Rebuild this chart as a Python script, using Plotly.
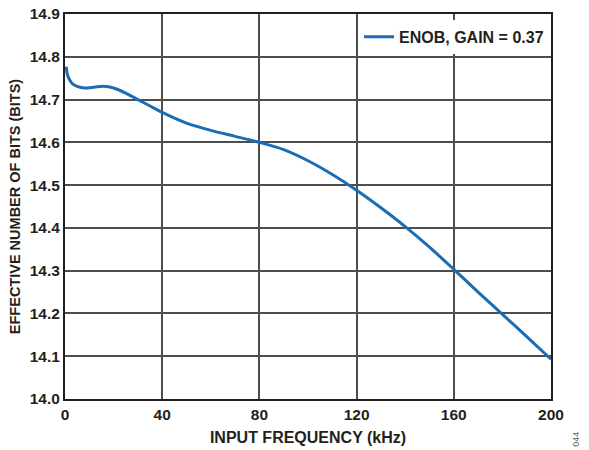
import plotly.graph_objects as go

freq_khz = [0.5, 1, 2, 3, 5, 8, 12, 16, 20, 25, 30, 35, 40, 50, 60, 70, 80, 90, 100, 110, 120, 130, 140, 150, 160, 170, 180, 190, 200]
enob = [14.777, 14.758, 14.745, 14.737, 14.731, 14.727, 14.729, 14.731, 14.727, 14.715, 14.700, 14.685, 14.670, 14.645, 14.628, 14.614, 14.600, 14.583, 14.557, 14.525, 14.488, 14.447, 14.403, 14.355, 14.303, 14.250, 14.198, 14.146, 14.093]
series_name = "ENOB, GAIN = 0.37"
x_ticks = [0, 40, 80, 120, 160, 200]
y_ticks = [14.0, 14.1, 14.2, 14.3, 14.4, 14.5, 14.6, 14.7, 14.8, 14.9]

font = "Liberation Sans, Arial, sans-serif"
ink = "#231f20"

fig = go.Figure()
fig.add_trace(go.Scatter(x=freq_khz, y=enob, mode="lines", name=series_name,
                         line=dict(color="#1a6db5", width=3, shape="spline", smoothing=0.8)))

fig.update_layout(
    width=589, height=450,
    margin=dict(l=65, r=38, t=14, b=51, autoexpand=False),
    paper_bgcolor="white", plot_bgcolor="white",
    font=dict(family=font, size=15, color=ink),
    showlegend=True,
    legend=dict(x=0.996, y=0.985, xanchor="right", yanchor="top", bgcolor="white",
                font=dict(family=font, size=16, color=ink, weight="bold"),
                borderwidth=0, itemwidth=30),
    xaxis=dict(range=[0, 200], tickvals=x_ticks, ticktext=[str(v) for v in x_ticks],
               showgrid=True, gridcolor="#4d4d4d", gridwidth=1.5,
               showline=True, linecolor=ink, linewidth=2, mirror=True,
               ticks="", zeroline=False, automargin=False,
               tickfont=dict(family=font, size=15.5, color=ink, weight="bold"),
               title=dict(text="INPUT FREQUENCY (kHz)", standoff=10,
                          font=dict(family=font, size=16, color=ink, weight="bold"))),
    yaxis=dict(range=[14.0, 14.9], tickvals=y_ticks, ticktext=[f"{v:.1f}" for v in y_ticks],
               showgrid=True, gridcolor="#4d4d4d", gridwidth=1.5,
               showline=True, linecolor=ink, linewidth=2, mirror=True,
               ticks="", zeroline=False, automargin=False,
               tickfont=dict(family=font, size=15.5, color=ink, weight="bold"),
               title=dict(text="EFFECTIVE NUMBER OF BITS (BITS)", standoff=6,
                          font=dict(family=font, size=14.5, color=ink, weight="bold"))),
)

fig.add_annotation(text="044", x=1.052, y=-0.105, xref="x domain", yref="y domain",
                   showarrow=False, textangle=-90, xanchor="center", yanchor="middle",
                   font=dict(family=font, size=9, color="#666666"))

fig.write_html("out.html", config={"displayModeBar": False},
               post_script="document.body.style.margin='0';document.body.style.overflow='hidden';")
